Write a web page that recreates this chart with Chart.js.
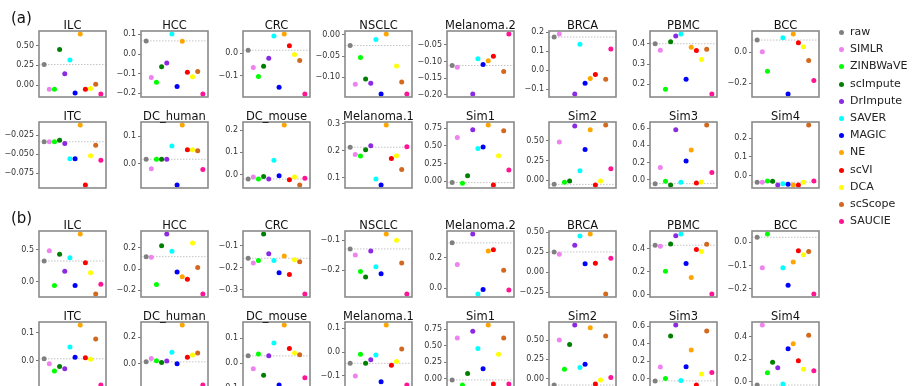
<!DOCTYPE html>
<html>
<head>
<meta charset="utf-8">
<script src="https://cdn.jsdelivr.net/npm/chart.js@4.4.0/dist/chart.umd.min.js"></script>
<style>
  body { margin: 0; background: #fff; font-family: "DejaVu Sans", sans-serif; }
  #fig { position: relative; width: 912px; height: 386px; overflow: hidden; }
  .panel { position: absolute; }
  .tag { position: absolute; font-size: 15px; color: #111; }
  .leg { position: absolute; font-size: 11px; color: #222; white-space: nowrap; }
  .leg span { position: absolute; width: 5px; height: 5px; border-radius: 50%; left: -11.5px; top: 5px; }
</style>
</head>
<body>
<div id="fig"></div>
<script>
const methods = ['raw', 'SIMLR', 'ZINBWaVE', 'scImpute', 'DrImpute', 'SAVER', 'MAGIC', 'NE', 'scVI', 'DCA', 'scScope', 'SAUCIE'];
const colors = ['#808080', '#ee82ee', '#00ff00', '#008000', '#8a2be2', '#00ffff', '#0000ff', '#ffa500', '#ff0000', '#ffff00', '#d2691e', '#ff1493'];
const datasetNames = ['ILC', 'HCC', 'CRC', 'NSCLC', 'Melanoma.2', 'BRCA', 'PBMC', 'BCC',
                      'ITC', 'DC_human', 'DC_mouse', 'Melanoma.1', 'Sim1', 'Sim2', 'Sim3', 'Sim4'];

// (a) one row of 12 method scores per dataset, null = not available
const scoresA = [
  [0.26, -0.05, -0.05, 0.45, 0.144, 0.318, -0.097, 0.644, -0.05, -0.042, 0.013, -0.11],
  [0.067, -0.119, -0.143, -0.064, -0.046, 0.102, -0.165, 0.065, -0.093, -0.115, -0.088, -0.203],
  [0.013, -0.064, -0.103, -0.058, -0.022, 0.076, -0.151, 0.085, 0.033, -0.006, -0.033, -0.181],
  [-0.025, -0.116, -0.053, -0.104, -0.114, -0.011, -0.139, 0.002, null, -0.073, -0.111, -0.139],
  [-0.112, -0.117, null, null, -0.198, -0.092, -0.109, -0.098, -0.084, null, -0.130, -0.017],
  [0.174, 0.19, null, null, -0.125, 0.136, -0.069, -0.044, -0.023, null, -0.048, 0.111],
  [0.40, 0.368, 0.175, 0.41, 0.438, 0.448, 0.225, 0.383, 0.367, 0.322, 0.373, 0.152],
  [0.078, 0.002, -0.124, null, null, 0.093, -0.27, 0.117, 0.061, 0.035, -0.054, -0.183],
  [-0.0334, -0.0334, -0.0334, -0.0316, -0.0356, -0.056, -0.056, -0.0113, -0.0906, -0.052, -0.038, -0.058],
  [0.016, -0.019, 0.016, 0.016, 0.016, 0.064, -0.078, 0.141, 0.051, 0.051, 0.047, -0.021],
  [-0.02, -0.011, -0.02, -0.009, -0.02, 0.064, -0.005, 0.223, -0.023, -0.011, -0.047, -0.017],
  [0.213, 0.186, 0.18, 0.204, 0.219, 0.094, 0.072, 0.296, 0.171, 0.181, 0.130, 0.215],
  [-0.019, 0.617, -0.029, 0.076, 0.726, 0.462, 0.483, 0.793, -0.053, 0.358, 0.712, 0.158],
  [-0.052, 0.487, -0.026, -0.009, 0.69, 0.121, 0.392, 0.642, -0.06, -0.009, 0.703, 0.147],
  [-0.047, 0.142, -0.02, -0.063, 0.58, -0.032, 0.217, 0.344, -0.04, -0.028, 0.636, 0.083],
  [-0.036, -0.036, -0.029, -0.031, -0.051, -0.044, -0.047, -0.051, -0.051, -0.036, 0.271, -0.029]
];

// (b)
const scoresB = [
  [0.323, 0.484, -0.059, 0.43, 0.161, 0.376, -0.059, 0.747, 0.296, 0.14, -0.194, -0.043],
  [0.116, 0.11, -0.145, 0.219, 0.329, 0.168, -0.029, -0.074, -0.097, 0.245, 0.013, -0.235],
  [-0.157, -0.179, -0.167, -0.047, -0.136, -0.167, -0.223, -0.147, -0.231, -0.164, -0.173, -0.319],
  [-0.129, -0.149, -0.205, -0.223, -0.136, -0.189, -0.212, -0.079, null, -0.1, -0.176, -0.28],
  [0.297, 0.155, null, null, 0.355, -0.038, -0.009, 0.243, 0.252, null, 0.117, -0.011],
  [0.254, 0.226, null, null, 0.337, 0.453, 0.107, 0.479, 0.111, null, -0.273, 0.175],
  [0.43, 0.421, 0.203, 0.442, 0.513, 0.528, 0.272, 0.149, 0.394, 0.376, 0.439, 0.006],
  [0.021, -0.11, 0.035, null, null, -0.11, -0.184, -0.085, -0.037, -0.054, -0.04, -0.222],
  [0.007, -0.011, -0.037, -0.021, -0.029, 0.049, 0.012, 0.128, 0.011, 0.005, 0.078, -0.087],
  [0.015, 0.041, 0.023, 0.01, 0.021, 0.087, 0.0, 0.292, 0.049, 0.067, 0.082, -0.159],
  [0.029, -0.023, 0.037, -0.049, 0.029, 0.081, -0.088, 0.153, 0.059, 0.041, 0.034, -0.059],
  [-0.047, -0.1, -0.009, -0.047, -0.032, -0.012, -0.124, 0.114, -0.055, -0.039, 0.013, -0.138],
  [-0.016, 0.621, -0.093, 0.083, 0.724, 0.459, 0.155, 0.817, -0.078, 0.373, 0.621, -0.078],
  [-0.084, 0.5, 0.119, 0.442, 0.695, 0.142, 0.186, 0.659, -0.071, -0.018, 0.553, 0.013],
  [-0.027, 0.133, 0.0, 0.487, 0.612, -0.023, 0.136, 0.327, -0.074, 0.051, 0.542, 0.07],
  [-0.03, 0.503, 0.079, 0.173, 0.124, -0.021, 0.291, 0.336, 0.185, 0.109, 0.412, 0.097]
];

const ticksA = [
  ['0.00', '0.25', '0.50'], ['-0.2', '-0.1', '0.0', '0.1'], ['-0.1', '0.0'], ['-0.10', '-0.05', '0.00'],
  ['-0.20', '-0.15', '-0.10', '-0.05'], ['-0.1', '0.0', '0.1', '0.2'], ['0.2', '0.3', '0.4'], ['-0.2', '0.0'],
  ['-0.075', '-0.050', '-0.025'], ['0.0', '0.1'], ['0.0', '0.1', '0.2'], ['0.1', '0.2', '0.3'],
  ['0.00', '0.25', '0.50', '0.75'], ['0.00', '0.25', '0.50'], ['0.0', '0.2', '0.4', '0.6'], ['0.0', '0.1', '0.2']
];
const ticksB = [
  ['0.0', '0.5'], ['-0.2', '0.0', '0.2'], ['-0.3', '-0.2', '-0.1'], ['-0.2', '-0.1'],
  ['0.0', '0.2'], ['-0.25', '0.00', '0.25', '0.50'], ['0.0', '0.2', '0.4'], ['-0.2', '-0.1', '0.0'],
  ['-0.1', '0.0', '0.1'], ['-0.2', '0.0', '0.2'], ['-0.1', '0.0', '0.1'], ['-0.1', '0.0', '0.1'],
  ['0.00', '0.25', '0.50', '0.75'], ['0.00', '0.25', '0.50'], ['0.0', '0.2', '0.4', '0.6'], ['0.0', '0.2', '0.4']
];

// layout of the grid (plot boxes)
const rowTop = [31, 122, 231, 322];
const boxW = 67, boxH = 66;
const AXIS_W = 44, PAD_TOP = 20, PAD_BOTTOM = 8, PAD_RIGHT = 4;
const colLeft = c => 39 + 101.9 * c;

const fig = document.getElementById('fig');

// draws raw-value dotted line, frame and panel title
const panelDeco = {
  id: 'panelDeco',
  beforeDatasetsDraw(chart, args, opts) {
    const { ctx, chartArea: a } = chart;
    const y = chart.scales.y.getPixelForValue(opts.raw);
    ctx.save();
    ctx.strokeStyle = '#c4c4c4';
    ctx.lineWidth = 1;
    ctx.setLineDash([1.5, 1.5]);
    ctx.beginPath();
    ctx.moveTo(a.left, y);
    ctx.lineTo(a.right, y);
    ctx.stroke();
    ctx.restore();
  },
  afterDraw(chart, args, opts) {
    const { ctx, chartArea: a } = chart;
    ctx.save();
    ctx.strokeStyle = '#8a8a8a';
    ctx.lineWidth = 1.6;
    ctx.strokeRect(a.left, a.top, a.right - a.left, a.bottom - a.top);
    ctx.fillStyle = '#111';
    ctx.font = '11.5px "DejaVu Sans"';
    ctx.textAlign = 'center';
    ctx.textBaseline = 'alphabetic';
    ctx.fillText(opts.title, (a.left + a.right) / 2, a.top - 2.5);
    ctx.restore();
  }
};

function drawPanel(values, tickLabels, title, row, col) {
  const left = Math.round(colLeft(col)) - AXIS_W;
  const top = rowTop[row] - PAD_TOP;
  const w = AXIS_W + boxW + PAD_RIGHT;
  const h = PAD_TOP + boxH + PAD_BOTTOM;

  const div = document.createElement('div');
  div.className = 'panel';
  div.style.left = left + 'px';
  div.style.top = top + 'px';
  const canvas = document.createElement('canvas');
  canvas.width = w;
  canvas.height = h;
  div.appendChild(canvas);
  fig.appendChild(div);

  const pts = [], ptColors = [];
  values.forEach((v, i) => {
    if (v !== null) { pts.push({ x: i, y: v }); ptColors.push(colors[i]); }
  });
  const ys = pts.map(p => p.y);
  const lo = Math.min(...ys), hi = Math.max(...ys);
  const m = (hi - lo) * 0.05;
  const yMin = lo - m, yMax = hi + m;
  const shown = tickLabels.filter(t => parseFloat(t) >= yMin && parseFloat(t) <= yMax);

  new Chart(canvas, {
    type: 'scatter',
    data: {
      datasets: [{
        data: pts,
        pointBackgroundColor: ptColors,
        pointBorderWidth: 0,
        pointRadius: 2.5,
        showLine: false
      }]
    },
    options: {
      responsive: false,
      animation: false,
      devicePixelRatio: 1,
      layout: { padding: { top: PAD_TOP, bottom: PAD_BOTTOM, left: 0, right: PAD_RIGHT } },
      plugins: {
        legend: { display: false },
        tooltip: { enabled: false },
        panelDeco: { raw: values[0], title: title }
      },
      scales: {
        x: { type: 'linear', min: -1, max: 12, display: false },
        y: {
          type: 'linear',
          min: yMin,
          max: yMax,
          afterBuildTicks: scale => { scale.ticks = shown.map(t => ({ value: parseFloat(t) })); },
          afterFit: scale => { scale.width = AXIS_W; },
          border: { display: false },
          grid: { drawOnChartArea: false, drawTicks: true, tickLength: 3, color: '#555', lineWidth: 0.8 },
          ticks: {
            autoSkip: false,
            padding: 2,
            color: '#333',
            font: { family: 'DejaVu Sans', size: 8 },
            callback: (v, i) => shown[i].replace('-', '\u2212')
          }
        }
      }
    },
    plugins: [panelDeco]
  });
}

[scoresA, scoresB].forEach((group, g) => {
  const tks = g === 0 ? ticksA : ticksB;
  group.forEach((vals, p) => {
    drawPanel(vals, tks[p], datasetNames[p], g * 2 + Math.floor(p / 8), p % 8);
  });
});

// panel tags
[['(a)', 9], ['(b)', 209]].forEach(([t, y]) => {
  const d = document.createElement('div');
  d.className = 'tag';
  d.textContent = t;
  d.style.left = '11px';
  d.style.top = y + 'px';
  fig.appendChild(d);
});

// legend
methods.forEach((name, i) => {
  const d = document.createElement('div');
  d.className = 'leg';
  d.style.left = '850px';
  d.style.top = (33 + 17.2 * i - 8) + 'px';
  d.innerHTML = '<span style="background:' + colors[i] + '"></span>' + name;
  fig.appendChild(d);
});
</script>
</body>
</html>
